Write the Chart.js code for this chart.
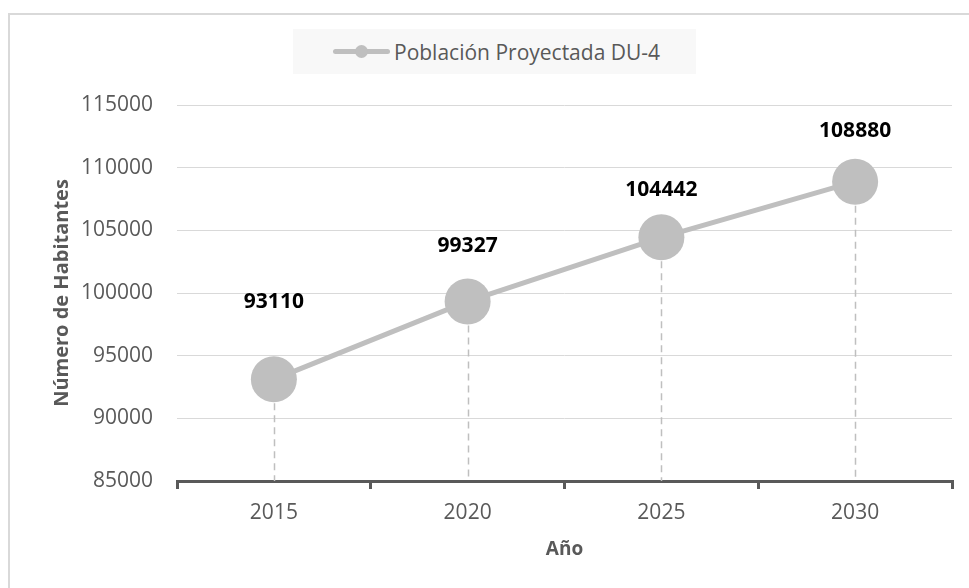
<!DOCTYPE html>
<html lang="es">
<head>
<meta charset="utf-8">
<title>Población Proyectada DU-4</title>
<script src="https://cdn.jsdelivr.net/npm/chart.js@4.4.1/dist/chart.umd.min.js"></script>
<style>
    html, body {
        margin: 0;
        padding: 0;
        background: #ffffff;
        overflow: hidden;
    }
    .wrap {
        position: relative;
        width: 969px;
        height: 588px;
    }
    .frame {
        position: absolute;
        left: 8px;
        top: 13px;
        width: 980px;
        height: 600px;
        border-left: 2px solid #d9d9d9;
        border-top: 2px solid #d9d9d9;
    }
    #chart {
        position: absolute;
        left: 0;
        top: 0;
    }
    .legend {
        position: absolute;
        left: 293px;
        top: 29px;
        width: 403px;
        height: 45px;
        background: #f8f8f8;
        display: flex;
        align-items: center;
        font-family: "Open Sans", sans-serif;
        font-size: 21px;
        color: #595959;
    }
    .legend .swatch {
        position: relative;
        width: 57px;
        height: 13px;
        margin-left: 40px;
        margin-right: 4px;
    }
    .legend .swatch::before {
        content: "";
        position: absolute;
        left: 0;
        right: 0;
        top: 4px;
        height: 5px;
        border-radius: 3px;
        background: #bfbfbf;
    }
    .legend .swatch::after {
        content: "";
        position: absolute;
        left: 22px;
        top: 0;
        width: 13px;
        height: 13px;
        border-radius: 50%;
        background: #bfbfbf;
    }
</style>
</head>
<body>
<div class="wrap">
    <div class="frame"></div>
    <canvas id="chart" width="969" height="588"></canvas>
    <div class="legend"><span class="swatch"></span><span>Población Proyectada DU-4</span></div>
</div>
<script>
// Projected population, DU-4
const years = ['2015', '2020', '2025', '2030'];
const population = [93110, 99327, 104442, 108880];
const yTicks = [85000, 90000, 95000, 100000, 105000, 110000, 115000];

const seriesName = 'Población Proyectada DU-4';
const axisGray = '#595959';
const markGray = '#bfbfbf';
const fontFamily = '"Open Sans", sans-serif';

// how far above each marker its value label sits
const labelOffsets = [77, 55, 47, 51];

// dashed drop lines from each point down to the x axis
const dropLines = {
    id: 'dropLines',
    beforeDatasetsDraw(chart) {
        const ctx = chart.ctx;
        const bottom = chart.chartArea.bottom;
        ctx.save();
        ctx.strokeStyle = markGray;
        ctx.lineWidth = 1.5;
        ctx.setLineDash([7, 5]);
        chart.getDatasetMeta(0).data.forEach(pt => {
            const x = Math.round(pt.x) + 0.5;
            ctx.beginPath();
            ctx.moveTo(x, pt.y);
            ctx.lineTo(x, bottom);
            ctx.stroke();
        });
        ctx.restore();
    }
};

// bold value labels over the markers
const valueLabels = {
    id: 'valueLabels',
    afterDatasetsDraw(chart) {
        const ctx = chart.ctx;
        const values = chart.data.datasets[0].data;
        ctx.save();
        ctx.font = 'bold 21px ' + fontFamily;
        ctx.fillStyle = '#000000';
        ctx.textAlign = 'center';
        ctx.textBaseline = 'middle';
        chart.getDatasetMeta(0).data.forEach((pt, i) => {
            ctx.fillText(String(values[i]), pt.x, pt.y - labelOffsets[i]);
        });
        ctx.restore();
    }
};

const ctx = document.getElementById('chart').getContext('2d');
new Chart(ctx, {
    type: 'line',
    data: {
        labels: years,
        datasets: [{
            label: seriesName,
            data: population,
            borderColor: markGray,
            backgroundColor: markGray,
            borderWidth: 5,
            fill: false,
            tension: 0,
            pointRadius: 23,
            pointHoverRadius: 23,
            pointBorderWidth: 0,
            pointBackgroundColor: markGray
        }]
    },
    options: {
        responsive: false,
        animation: false,
        layout: {
            autoPadding: false,
            padding: { top: 105, right: 17, bottom: 0, left: 45 }
        },
        scales: {
            x: {
                type: 'category',
                offset: true,
                afterFit: scale => {
                    scale.height = 107;
                    scale.paddingLeft = 0;
                    scale.paddingRight = 0;
                },
                border: { display: true, color: axisGray, width: 3 },
                grid: {
                    offset: true,
                    drawOnChartArea: false,
                    drawTicks: true,
                    tickLength: 8,
                    color: axisGray,
                    lineWidth: 3
                },
                ticks: {
                    color: axisGray,
                    padding: 11,
                    font: { family: fontFamily, size: 21 }
                },
                title: {
                    display: true,
                    text: 'Año',
                    color: axisGray,
                    padding: { top: 27, bottom: 27 },
                    font: { family: fontFamily, size: 19, weight: 'bold' }
                }
            },
            y: {
                min: 85000,
                max: 115000,
                afterFit: scale => { scale.width = 132; },
                afterBuildTicks: scale => {
                    scale.ticks = yTicks.map(v => ({ value: v }));
                },
                border: { display: false },
                grid: {
                    color: '#d9d9d9',
                    lineWidth: 1,
                    drawTicks: false
                },
                ticks: {
                    color: axisGray,
                    padding: 24,
                    font: { family: fontFamily, size: 21 },
                    callback: value => String(value)
                },
                title: {
                    display: true,
                    text: 'Número de Habitantes',
                    color: axisGray,
                    padding: { top: 5, bottom: 5 },
                    font: { family: fontFamily, size: 20, weight: 'bold' }
                }
            }
        },
        plugins: {
            legend: { display: false },
            tooltip: { enabled: false }
        }
    },
    plugins: [dropLines, valueLabels]
});
</script>
</body>
</html>
